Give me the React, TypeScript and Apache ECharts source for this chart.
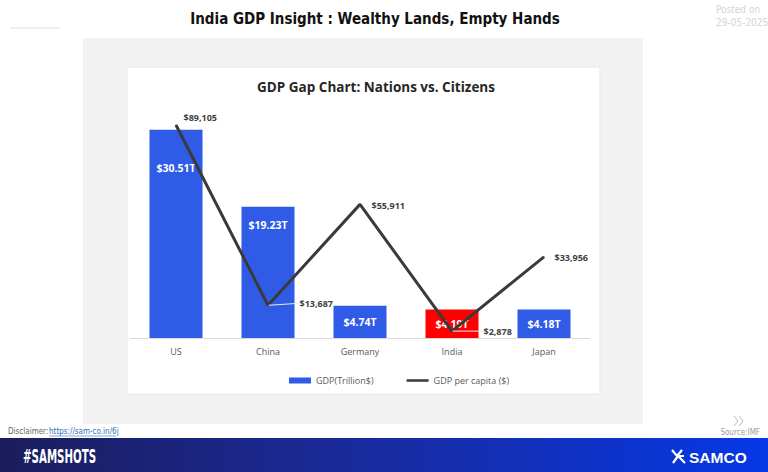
import React, { useEffect, useRef } from "react";
import * as echarts from "echarts";

// Countries compared
const categories = ["US", "China", "Germany", "India", "Japan"];
// Nominal GDP, trillion US$
const gdpTrillion = [30.51, 19.23, 4.74, 4.19, 4.18];
// GDP per capita, US$
const gdpPerCapita = [89105, 13687, 55911, 2878, 33956];
const highlighted = "India";

// Placement tweaks for labels (pixels)
const barLabelShift = [28, 8, 0, 0, 0];
const lineLabelShift: [number, number][] = [
  [2, -8],
  [26, -2],
  [6, 1],
  [26, 0],
  [5, 1],
];

const BLUE = "#2f5be6";
const RED = "#ff0000";
const NARROW = "'DejaVu Sans Condensed'";

export default function App() {
  const ref = useRef<HTMLDivElement>(null);

  useEffect(() => {
    if (!ref.current) return;
    const chart = echarts.init(ref.current, undefined, { renderer: "svg" });

    const barData = gdpTrillion.map((v, i) => {
      const isHi = categories[i] === highlighted;
      const shift = barLabelShift[i];
      return {
        value: v,
        itemStyle: { color: isHi ? RED : BLUE },
        label:
          shift > 0
            ? { position: "insideTop", offset: [0, shift] }
            : { position: "inside" },
      };
    });

    const lineData = gdpPerCapita.map((v, i) => ({
      value: v,
      labelLine: { show: i === 1 || i === 3 },
    }));

    chart.setOption({
      animation: false,
      backgroundColor: "#ffffff",
      graphic: [
        // outer grey panel and white chart card
        { type: "rect", z: -10, shape: { x: 83, y: 38, width: 560, height: 386 }, style: { fill: "#f2f2f2" } },
        { type: "rect", z: -9, shape: { x: 127, y: 67, width: 473, height: 327 }, style: { fill: "#ffffff", stroke: "#e8e8e8", lineWidth: 1 } },
        // heading
        {
          type: "text", x: 375, y: 19,
          style: { text: "India GDP Insight : Wealthy Lands, Empty Hands", fill: "#111111", font: "bold 15px " + NARROW, align: "center", verticalAlign: "middle" },
        },
        { type: "line", shape: { x1: 10, y1: 28, x2: 60, y2: 28 }, style: { stroke: "#eadfc6", lineWidth: 1 } },
        {
          type: "text", x: 716, y: 9,
          style: { text: "Posted on", fill: "#d4d4d4", font: "10px " + NARROW, align: "left", verticalAlign: "middle" },
        },
        {
          type: "text", x: 716, y: 22,
          style: { text: "29-05-2025", fill: "#d4d4d4", font: "10px " + NARROW, align: "left", verticalAlign: "middle" },
        },
        // chart card title
        {
          type: "text", x: 376, y: 87,
          style: { text: "GDP Gap Chart: Nations vs. Citizens", fill: "#262626", font: "bold 13.5px 'Open Sans'", align: "center", verticalAlign: "middle" },
        },
        // footer notes
        {
          type: "text", x: 8, y: 431,
          style: { text: "Disclaimer:", fill: "#666666", font: "8px " + NARROW, align: "left", verticalAlign: "middle" },
        },
        {
          type: "text", x: 49, y: 431,
          style: { text: "https://sam-co.in/6j", fill: "#2a6db8", font: "8px " + NARROW, align: "left", verticalAlign: "middle" },
        },
        { type: "line", shape: { x1: 49, y1: 436, x2: 116, y2: 436 }, style: { stroke: "#2a6db8", lineWidth: 0.6 } },
        { type: "polyline", shape: { points: [[734, 416], [738, 421], [734, 426]] }, style: { stroke: "#b8b8b8", lineWidth: 1, fill: "none" } },
        { type: "polyline", shape: { points: [[739, 416], [743, 421], [739, 426]] }, style: { stroke: "#b8b8b8", lineWidth: 1, fill: "none" } },
        {
          type: "text", x: 760, y: 432,
          style: { text: "Source:IMF", fill: "#9a9a9a", font: "8px " + NARROW, align: "right", verticalAlign: "middle" },
        },
        // bottom banner
        {
          type: "rect", z: -5, shape: { x: 0, y: 438, width: 768, height: 34 },
          style: {
            fill: new echarts.graphic.LinearGradient(0, 0, 1, 0, [
              { offset: 0, color: "#1b1d5c" },
              { offset: 0.45, color: "#1a2a9a" },
              { offset: 1, color: "#0638e6" },
            ]),
          },
        },
        {
          type: "text", x: 23, y: 456, scaleX: 0.6,
          style: { text: "#SAMSHOTS", fill: "#ffffff", font: "bold 19px " + NARROW, align: "left", verticalAlign: "middle" },
        },
        {
          type: "group", x: 672, y: 450,
          children: [
            { type: "polyline", shape: { points: [[0, 0], [5, 6], [10, 0]] }, style: { stroke: "#ffffff", lineWidth: 2.2, fill: "none" } },
            { type: "polyline", shape: { points: [[1, 13], [6, 6], [13, 13]] }, style: { stroke: "#ffffff", lineWidth: 2.2, fill: "none" } },
            { type: "line", shape: { x1: 6, y1: 6, x2: 12, y2: 6 }, style: { stroke: "#ffffff", lineWidth: 2 } },
          ],
        },
        {
          type: "text", x: 689, y: 457,
          style: { text: "SAMCO", fill: "#ffffff", font: "bold 15.5px 'Liberation Sans'", align: "left", verticalAlign: "middle" },
        },
      ],
      legend: {
        left: 284,
        top: 371,
        itemWidth: 22,
        itemHeight: 6,
        itemGap: 33,
        textStyle: { color: "#595959", fontSize: 9, fontFamily: "Open Sans" },
        data: [
          { name: "GDP(Trillion$)", icon: "rect" },
          { name: "GDP per capita ($)", icon: "path://M0,0L26,0L26,3L0,3Z" },
        ],
      },
      grid: { left: 130, right: 178, top: 99, bottom: 134 },
      xAxis: {
        type: "category",
        data: categories,
        axisLine: { lineStyle: { color: "#d9d9d9" } },
        axisTick: { show: false },
        axisLabel: { color: "#595959", fontSize: 9, fontFamily: "Open Sans", margin: 9 },
      },
      yAxis: [
        { type: "value", min: 0, max: 35, show: false, splitLine: { show: false } },
        { type: "value", min: 0, max: 100000, show: false, splitLine: { show: false } },
      ],
      series: [
        {
          name: "GDP(Trillion$)",
          type: "bar",
          yAxisIndex: 0,
          barWidth: 53,
          itemStyle: { color: BLUE },
          label: {
            show: true,
            color: "#ffffff",
            fontWeight: "bold",
            fontSize: 10.5,
            fontFamily: "Open Sans",
            formatter: (p: any) => "$" + p.value + "T",
          },
          data: barData,
        },
        {
          name: "GDP per capita ($)",
          type: "line",
          yAxisIndex: 1,
          symbol: "circle",
          symbolSize: 1,
          showSymbol: true,
          lineStyle: { color: "#3a3a3a", width: 3 },
          itemStyle: { color: "#3a3a3a" },
          z: 5,
          label: {
            show: true,
            position: "right",
            distance: 5,
            color: "#404040",
            fontWeight: "bold",
            fontSize: 9,
            fontFamily: "Open Sans",
            formatter: (p: any) => "$" + Number(p.value).toLocaleString("en-US"),
          },
          labelLine: { show: false, lineStyle: { color: "#e4eaf8", width: 1 } },
          labelLayout: (params: any) => {
            const s = lineLabelShift[params.dataIndex] || [0, 0];
            return { dx: s[0], dy: s[1] };
          },
          data: lineData,
        },
      ],
    });

    return () => chart.dispose();
  }, []);

  return (
    <div
      ref={ref}
      style={{ position: "absolute", left: 0, top: 0, width: 768, height: 472 }}
    />
  );
}
